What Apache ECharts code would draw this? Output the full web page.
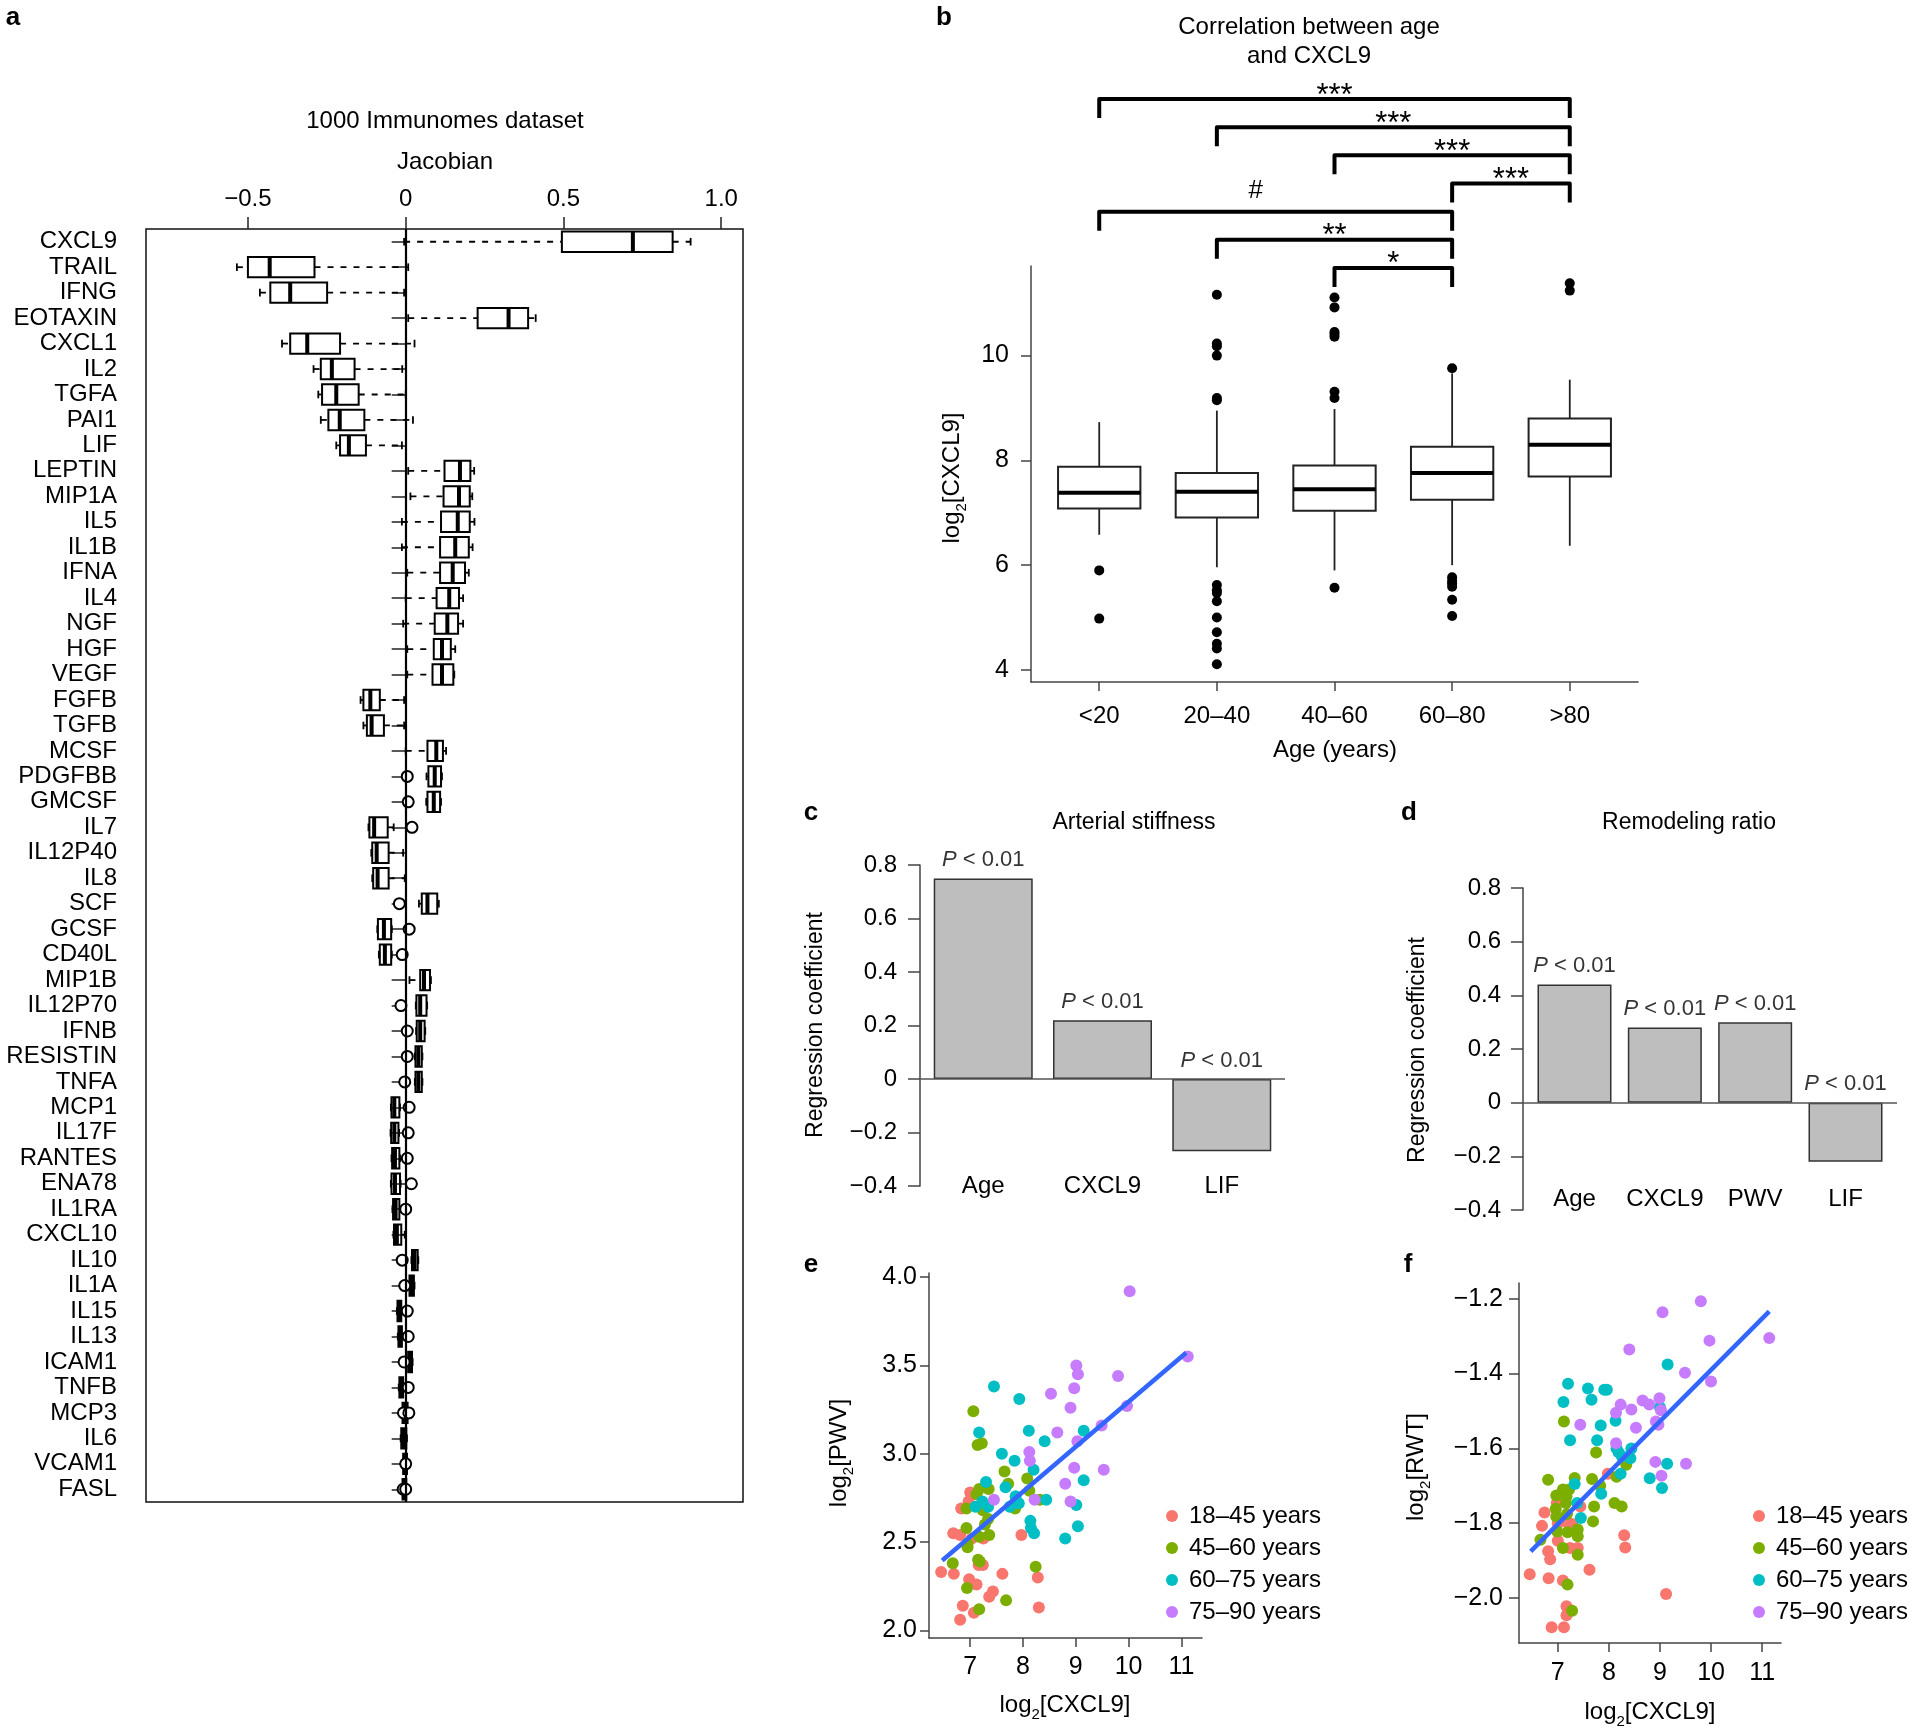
<!DOCTYPE html>
<html><head><meta charset="utf-8">
<script src="https://cdn.jsdelivr.net/npm/echarts@6/dist/echarts.min.js"></script>
<style>html,body{margin:0;padding:0;background:#fff}#main{width:1920px;height:1734px}</style>
</head><body><div id="main"></div>
<script>
// ---------- Panel a data ----------
const jacGenes = ['CXCL9','TRAIL','IFNG','EOTAXIN','CXCL1','IL2','TGFA','PAI1','LIF','LEPTIN','MIP1A','IL5','IL1B','IFNA','IL4','NGF','HGF','VEGF','FGFB','TGFB','MCSF','PDGFBB','GMCSF','IL7','IL12P40','IL8','SCF','GCSF','CD40L','MIP1B','IL12P70','IFNB','RESISTIN','TNFA','MCP1','IL17F','RANTES','ENA78','IL1RA','CXCL10','IL10','IL1A','IL15','IL13','ICAM1','TNFB','MCP3','IL6','VCAM1','FASL'];
const jacMin = [-0.005,-0.535,-0.462,0.008,-0.392,-0.292,-0.277,-0.269,-0.22,0.008,0.015,-0.012,-0.012,0.005,0.0,-0.008,0.005,0.005,-0.143,-0.134,0.0,0.066,0.065,-0.118,-0.109,-0.106,0.042,-0.09,-0.085,0.012,0.032,0.033,0.029,0.029,-0.047,-0.048,-0.045,-0.047,-0.042,-0.039,0.018,0.01,-0.028,-0.025,0.006,-0.022,-0.012,-0.016,-0.01,-0.012];
const jacQ1 = [0.495,-0.5,-0.429,0.228,-0.366,-0.269,-0.265,-0.245,-0.208,0.123,0.12,0.112,0.109,0.109,0.098,0.092,0.089,0.085,-0.134,-0.123,0.069,0.072,0.069,-0.115,-0.106,-0.103,0.051,-0.088,-0.082,0.046,0.034,0.035,0.031,0.031,-0.045,-0.046,-0.043,-0.045,-0.04,-0.037,0.02,0.012,-0.026,-0.023,0.008,-0.02,-0.01,-0.014,-0.008,-0.01];
const jacMed = [0.72,-0.431,-0.366,0.326,-0.312,-0.234,-0.22,-0.209,-0.18,0.172,0.169,0.165,0.157,0.149,0.138,0.132,0.115,0.115,-0.112,-0.108,0.097,0.092,0.089,-0.1,-0.092,-0.089,0.069,-0.069,-0.066,0.058,0.046,0.046,0.04,0.04,-0.036,-0.036,-0.034,-0.034,-0.032,-0.028,0.028,0.018,-0.02,-0.018,0.013,-0.014,-0.002,-0.006,-0.002,-0.004];
const jacQ3 = [0.846,-0.289,-0.249,0.388,-0.208,-0.162,-0.149,-0.131,-0.126,0.205,0.203,0.203,0.2,0.188,0.169,0.166,0.143,0.151,-0.082,-0.069,0.118,0.112,0.109,-0.057,-0.054,-0.054,0.1,-0.046,-0.046,0.077,0.066,0.06,0.051,0.051,-0.02,-0.023,-0.02,-0.018,-0.02,-0.014,0.038,0.026,-0.014,-0.012,0.02,-0.008,0.006,0.002,0.004,0.002];
const jacMax = [0.903,0.008,-0.005,0.412,0.028,-0.011,0.0,0.023,-0.012,0.217,0.211,0.218,0.212,0.2,0.182,0.182,0.157,0.154,-0.005,-0.005,0.128,0.115,0.112,-0.038,-0.008,-0.003,0.105,-0.044,-0.044,0.08,0.068,0.062,0.053,0.053,-0.018,-0.021,-0.018,-0.016,-0.018,-0.003,0.04,0.028,-0.012,-0.01,0.022,-0.006,0.008,0.004,0.006,0.004];
const jacOutGene = ['PDGFBB','GMCSF','IL7','SCF','GCSF','CD40L','IL12P70','IFNB','RESISTIN','TNFA','MCP1','IL17F','RANTES','ENA78','IL1RA','IL10','IL1A','IL15','IL13','ICAM1','TNFB','MCP3','MCP3','VCAM1','FASL','FASL'];
const jacOutVal = [0.005,0.008,0.02,-0.02,0.011,-0.011,-0.015,0.005,0.005,-0.003,0.011,0.008,0.005,0.018,0.0,-0.011,-0.003,0.005,0.008,-0.005,0.008,-0.007,0.01,0.0,-0.008,0.0];
const jacTicks = [-0.5, 0, 0.5, 1.0];

// ---------- Panel b data ----------
const ageGroups = ['<20','20–40','40–60','60–80','>80'];
const bMin = [6.58, 5.96, 5.90, 6.00, 6.37];
const bQ1  = [7.08, 6.91, 7.04, 7.25, 7.69];
const bMed = [7.38, 7.40, 7.45, 7.76, 8.30];
const bQ3  = [7.88, 7.76, 7.90, 8.26, 8.80];
const bMax = [8.73, 8.95, 8.98, 9.66, 9.54];
const bOutliers = [
  [5.90, 4.98],
  [11.16, 10.23, 10.18, 10.00, 9.19, 9.15, 5.62, 5.52, 5.47, 5.31, 5.00, 4.72, 4.50, 4.41, 4.11],
  [11.11, 10.92, 10.45, 10.41, 10.36, 9.31, 9.19, 5.57],
  [9.76, 5.77, 5.70, 5.65, 5.59, 5.34, 5.03],
  [11.38, 11.24]
];
const bTicks = [4, 6, 8, 10];
const bracketFrom = [1, 2, 3, 4, 1, 2, 3];
const bracketTo   = [5, 5, 5, 5, 4, 4, 4];
const bracketText = ['***','***','***','***','#','**','*'];

// ---------- Panels c, d data ----------
const arterialVars = ['Age', 'CXCL9', 'LIF'];
const arterialCoef = [0.75, 0.22, -0.27];
const arterialP = ['< 0.01', '< 0.01', '< 0.01'];
const remodelVars = ['Age', 'CXCL9', 'PWV', 'LIF'];
const remodelCoef = [0.44, 0.28, 0.30, -0.22];
const remodelP = ['< 0.01', '< 0.01', '< 0.01', '< 0.01'];

// ---------- Panels e, f data ----------
const groupNames = ['18–45 years', '45–60 years', '60–75 years', '75–90 years'];
const groupColors = ['#F8766D', '#7CAE00', '#00BFC4', '#C77CFF'];
const ePwv18 = [[6.45,2.33],[6.69,2.32],[7.0,2.78],[6.97,2.73],[6.83,2.69],[6.68,2.55],[6.81,2.54],[7.03,2.52],[7.25,2.52],[7.97,2.54],[6.98,2.29],[7.12,2.26],[7.16,2.37],[7.24,2.37],[6.86,2.14],[6.81,2.06],[7.07,2.10],[7.36,2.19],[7.43,2.22],[7.61,2.32],[8.28,2.30],[8.30,2.13]];
const ePwv45 = [[7.06,3.24],[7.14,3.05],[7.22,3.06],[7.12,2.77],[7.17,2.80],[6.93,2.69],[6.93,2.58],[6.95,2.49],[6.95,2.47],[6.67,2.38],[6.94,2.24],[7.17,2.12],[7.15,2.40],[7.18,2.39],[7.17,2.53],[7.28,2.60],[7.34,2.63],[7.36,2.54],[7.26,2.71],[7.35,2.80],[7.24,2.68],[7.65,2.90],[7.72,2.83],[7.85,2.69],[8.08,2.86],[8.12,2.79],[8.24,2.36],[7.68,2.17],[8.32,2.74]];
const ePwv60 = [[7.45,3.38],[7.93,3.31],[7.17,3.12],[8.11,3.13],[8.41,3.07],[9.15,3.13],[7.60,3.00],[7.84,2.96],[8.20,2.91],[7.30,2.84],[7.67,2.81],[7.10,2.70],[7.23,2.73],[7.34,2.70],[7.86,2.76],[7.92,2.72],[7.75,2.70],[8.44,2.74],[9.15,2.85],[9.01,2.71],[8.14,2.62],[8.15,2.58],[8.21,2.55],[8.80,2.52],[9.04,2.59]];
const ePwv75 = [[10.02,3.92],[11.12,3.55],[9.01,3.50],[9.04,3.45],[9.80,3.44],[8.97,3.37],[8.53,3.34],[8.90,3.26],[9.97,3.27],[8.65,3.12],[9.49,3.16],[9.03,3.07],[8.12,3.01],[8.13,2.96],[8.97,2.92],[9.53,2.91],[8.80,2.83],[7.45,2.74],[8.22,2.74],[8.90,2.73]];
const eFit = [[6.47, 2.396], [11.09, 3.572]];
const fRwt18 = [[6.45,-1.936],[6.82,-1.947],[6.81,-1.875],[6.85,-1.896],[6.69,-1.807],[6.74,-1.771],[6.98,-1.746],[7.0,-1.80],[7.0,-1.847],[7.10,-1.953],[7.17,-2.022],[7.17,-2.046],[6.88,-2.078],[7.12,-2.078],[7.28,-1.802],[7.24,-1.866],[7.39,-1.866],[7.44,-1.755],[7.62,-1.924],[7.98,-1.668],[8.30,-1.832],[8.32,-1.865],[9.12,-1.989],[7.2,-1.80]];
const fRwt45 = [[7.12,-1.528],[6.81,-1.684],[6.97,-1.726],[6.96,-1.761],[6.97,-1.782],[6.99,-1.822],[6.66,-1.844],[7.10,-1.866],[7.22,-1.71],[7.17,-1.728],[7.16,-1.746],[7.18,-1.775],[7.19,-1.824],[7.33,-1.679],[7.39,-1.817],[7.39,-1.835],[7.39,-1.884],[7.19,-1.964],[7.28,-2.034],[7.75,-1.611],[7.67,-1.682],[7.83,-1.70],[7.71,-1.755],[7.69,-1.795],[8.15,-1.676],[8.11,-1.746],[8.25,-1.755],[8.34,-1.644],[7.10,-1.71]];
const fRwt60 = [[7.20,-1.427],[7.11,-1.476],[7.59,-1.44],[7.66,-1.47],[7.91,-1.443],[7.96,-1.443],[7.24,-1.578],[7.84,-1.539],[7.77,-1.578],[8.13,-1.526],[9.15,-1.376],[9.0,-1.49],[8.15,-1.60],[8.19,-1.61],[8.25,-1.62],[8.44,-1.60],[8.42,-1.626],[8.23,-1.668],[9.14,-1.641],[8.80,-1.68],[9.04,-1.706],[7.33,-1.695],[7.85,-1.721],[7.38,-1.746],[7.45,-1.786]];
const fRwt75 = [[9.80,-1.207],[9.05,-1.236],[11.14,-1.305],[9.97,-1.312],[8.40,-1.336],[9.49,-1.398],[10.0,-1.421],[8.66,-1.472],[8.79,-1.483],[8.99,-1.466],[9.02,-1.498],[8.23,-1.483],[8.44,-1.496],[8.14,-1.505],[7.44,-1.537],[8.53,-1.545],[8.92,-1.528],[8.97,-1.537],[8.14,-1.586],[8.91,-1.636],[9.51,-1.641],[9.03,-1.673]];
const fFit = [[6.47, -1.875], [11.14, -1.234]];
const scatterXTicks = [7, 8, 9, 10, 11];
const eYTicks = [2.0, 2.5, 3.0, 3.5, 4.0];
const fYTicks = [-2.0, -1.8, -1.6, -1.4, -1.2];

// ---------- helpers ----------
const FF = '"Liberation Sans", Arial, Helvetica, sans-serif';
const AX = '#444';
function signed(v, d) {
  if (Math.abs(v) < 1e-9) return '0';
  return (v < 0 ? '−' : '') + Math.abs(v).toFixed(d);
}
function txt(x, y, text, size, opts) {
  opts = opts || {};
  const st = {text: text, fontSize: size, fontFamily: FF, fontWeight: opts.bold ? 'bold' : 'normal',
    fill: '#000', align: opts.align || 'center', verticalAlign: 'middle',
    textAlign: opts.align || 'center', textVerticalAlign: 'middle'};
  if (opts.rich) st.rich = opts.rich;
  return {type: 'text', x: x, y: y, rotation: opts.rot || 0, z: 100, style: st};
}
const logRich = {a: {fontSize: 24, fontFamily: FF, lineHeight: 34, verticalAlign: 'middle'},
                 s: {fontSize: 15, fontFamily: FF, lineHeight: 17, verticalAlign: 'bottom'}};
function logTxt(x, y, inner, rot) {
  return txt(x, y, '{a|log}{s|2}{a|' + inner + '}', 24, {rot: rot ? Math.PI / 2 : 0, rich: logRich});
}

// ---------- render functions ----------
function renderJacBox(params, api) {
  const cat = api.value(0);
  const band = api.size([0, 1])[1];
  const h = band * 0.8, cap = band * 0.3;
  const pMin = api.coord([api.value(1), cat]);
  const pQ1 = api.coord([api.value(2), cat]);
  const pMd = api.coord([api.value(3), cat]);
  const pQ3 = api.coord([api.value(4), cat]);
  const pMax = api.coord([api.value(5), cat]);
  const y = pMd[1];
  const ws = {stroke: '#000', lineWidth: 1.8, lineDash: [6, 7]};
  const ss = {stroke: '#000', lineWidth: 1.8};
  return {type: 'group', children: [
    {type: 'line', shape: {x1: pMin[0], y1: y, x2: pQ1[0], y2: y}, style: ws},
    {type: 'line', shape: {x1: pQ3[0], y1: y, x2: pMax[0], y2: y}, style: ws},
    {type: 'line', shape: {x1: pMin[0], y1: y - cap / 2, x2: pMin[0], y2: y + cap / 2}, style: ss},
    {type: 'line', shape: {x1: pMax[0], y1: y - cap / 2, x2: pMax[0], y2: y + cap / 2}, style: ss},
    {type: 'rect', shape: {x: pQ1[0], y: y - h / 2, width: pQ3[0] - pQ1[0], height: h}, style: {stroke: '#000', lineWidth: 2, fill: 'rgba(0,0,0,0)'}},
    {type: 'line', shape: {x1: pMd[0], y1: y - h / 2, x2: pMd[0], y2: y + h / 2}, style: {stroke: '#000', lineWidth: 4}}
  ]};
}
function renderAgeBox(params, api) {
  const x = api.value(0);
  const w = api.size([0.7, 0])[0];
  const pMin = api.coord([x, api.value(1)]);
  const pQ1 = api.coord([x, api.value(2)]);
  const pMd = api.coord([x, api.value(3)]);
  const pQ3 = api.coord([x, api.value(4)]);
  const pMax = api.coord([x, api.value(5)]);
  const cx = pMd[0];
  const ls = {stroke: '#222', lineWidth: 1.8};
  return {type: 'group', children: [
    {type: 'line', shape: {x1: cx, y1: pQ3[1], x2: cx, y2: pMax[1]}, style: ls},
    {type: 'line', shape: {x1: cx, y1: pQ1[1], x2: cx, y2: pMin[1]}, style: ls},
    {type: 'rect', shape: {x: cx - w / 2, y: pQ3[1], width: w, height: pQ1[1] - pQ3[1]}, style: {stroke: '#222', lineWidth: 2, fill: '#fff'}},
    {type: 'line', shape: {x1: cx - w / 2, y1: pMd[1], x2: cx + w / 2, y2: pMd[1]}, style: {stroke: '#000', lineWidth: 4}}
  ]};
}
function renderBracket(params, api) {
  const p1 = api.coord([api.value(0), api.value(2)]);
  const p2 = api.coord([api.value(1), api.value(2)]);
  const label = bracketText[params.dataIndex];
  const isHash = label === '#';
  const leg = 19;
  return {type: 'group', children: [
    {type: 'polyline', shape: {points: [[p1[0], p1[1] + leg], [p1[0], p1[1]], [p2[0], p2[1]], [p2[0], p2[1] + leg]]},
      style: {stroke: '#000', lineWidth: 4, fill: null, lineJoin: 'round'}},
    {type: 'text', style: {text: label, x: (p1[0] + p2[0]) / 2 + (isHash ? -20 : 0), y: p1[1] + (isHash ? -21 : -3),
      fontSize: isHash ? 26 : 31, fontFamily: FF, fill: '#000', align: 'center', verticalAlign: 'middle', textAlign: 'center', textVerticalAlign: 'middle'}}
  ]};
}

// ---------- build data ----------
const jacBoxData = jacGenes.map((g, i) => [i, jacMin[i], jacQ1[i], jacMed[i], jacQ3[i], jacMax[i]]);
const jacOutData = jacOutGene.map((g, i) => [jacOutVal[i], jacGenes.indexOf(g)]);
const ageBoxData = ageGroups.map((g, i) => [i + 1, bMin[i], bQ1[i], bMed[i], bQ3[i], bMax[i]]);
const ageOutData = [];
bOutliers.forEach((arr, i) => arr.forEach(v => ageOutData.push([i + 1, v])));
const bracketData = bracketFrom.map((f, i) => [f, bracketTo[i], i]);
const cPos = arterialVars.map((v, i) => 0.7 + 1.2 * i);
const dPos = remodelVars.map((v, i) => 0.7 + 1.2 * i);

const axisLineStyle = {color: AX, width: 1.5};
const noSplit = {show: false};
const lblBase = {fontSize: 24, fontFamily: FF, color: '#000'};

function pLabelSeries(xi, yi, pos, coefs, ptxt) {
  return {type: 'scatter', xAxisIndex: xi, yAxisIndex: yi, symbolSize: 1, silent: true, z: 6,
    itemStyle: {color: 'rgba(0,0,0,0)'},
    data: coefs.map((c, i) => [pos[i], Math.max(c, 0)]),
    label: {show: true, position: 'top', distance: 7,
      formatter: p => '{i|P} ' + ptxt[p.dataIndex],
      fontSize: 22, fontFamily: FF, color: '#000',
      rich: {i: {fontStyle: 'italic', fontSize: 22, fontFamily: FF, color: '#000'}}}};
}
function scatterGroup(xi, yi, data, gi) {
  return {type: 'scatter', name: groupNames[gi], xAxisIndex: xi, yAxisIndex: yi, data: data, symbolSize: 12,
    itemStyle: {color: groupColors[gi], opacity: 1}, z: 3};
}

const option = {
  animation: false,
  backgroundColor: '#fff',
  textStyle: {fontFamily: FF},
  grid: [
    {left: 146, top: 229, width: 597, height: 1273, show: true, borderColor: '#111', borderWidth: 1.5, outerBoundsMode: 'none'},
    {left: 1031, top: 266, width: 607, height: 416, outerBoundsMode: 'none'},
    {left: 1031, top: 85, width: 607, height: 197, outerBoundsMode: 'none'},
    {left: 920, top: 865, width: 365, height: 321, outerBoundsMode: 'none'},
    {left: 1523, top: 888, width: 374, height: 322, outerBoundsMode: 'none'},
    {left: 929, top: 1273, width: 273, height: 365, outerBoundsMode: 'none'},
    {left: 1519, top: 1283, width: 262, height: 360, outerBoundsMode: 'none'}
  ],
  xAxis: [
    {gridIndex: 0, type: 'value', position: 'top', min: -0.823, max: 1.069, splitLine: noSplit,
      axisLine: {show: false},
      axisTick: {show: true, inside: false, length: 12, customValues: jacTicks, lineStyle: {color: '#222', width: 1.5}},
      axisLabel: Object.assign({customValues: jacTicks, margin: 18, formatter: v => signed(v, 1)}, lblBase)},
    {gridIndex: 1, type: 'value', min: 0.42, max: 5.58, splitLine: noSplit,
      axisLine: {show: true, lineStyle: axisLineStyle},
      axisTick: {show: true, length: 9, customValues: [1, 2, 3, 4, 5], lineStyle: axisLineStyle},
      axisLabel: Object.assign({customValues: [1, 2, 3, 4, 5], margin: 22, formatter: v => ageGroups[Math.round(v) - 1]}, lblBase)},
    {gridIndex: 2, type: 'value', min: 0.42, max: 5.58, show: false, splitLine: noSplit},
    {gridIndex: 3, type: 'value', min: 0.064, max: 3.736, splitLine: noSplit,
      axisLine: {show: false}, axisTick: {show: false},
      axisLabel: Object.assign({customValues: cPos, margin: 0, verticalAlign: 'middle', formatter: v => arterialVars[Math.round((v - 0.7) / 1.2)]}, lblBase)},
    {gridIndex: 4, type: 'value', min: 0.016, max: 4.984, splitLine: noSplit,
      axisLine: {show: false}, axisTick: {show: false},
      axisLabel: Object.assign({customValues: dPos, margin: -11, verticalAlign: 'middle', formatter: v => remodelVars[Math.round((v - 0.7) / 1.2)]}, lblBase)},
    {gridIndex: 5, type: 'value', min: 6.22, max: 11.39, splitLine: noSplit,
      axisLine: {show: true, lineStyle: axisLineStyle},
      axisTick: {show: true, length: 9, customValues: scatterXTicks, lineStyle: axisLineStyle},
      axisLabel: Object.assign({customValues: scatterXTicks, margin: 17}, lblBase, {fontSize: 25})},
    {gridIndex: 6, type: 'value', min: 6.24, max: 11.37, splitLine: noSplit,
      axisLine: {show: true, lineStyle: axisLineStyle},
      axisTick: {show: true, length: 9, customValues: scatterXTicks, lineStyle: axisLineStyle},
      axisLabel: Object.assign({customValues: scatterXTicks, margin: 18}, lblBase, {fontSize: 25})}
  ],
  yAxis: [
    {gridIndex: 0, type: 'category', inverse: true, data: jacGenes, splitLine: noSplit,
      axisLine: {show: false},
      axisTick: {show: true, inside: false, length: 14, alignWithLabel: true, interval: 0, lineStyle: {color: '#222', width: 1.5}},
      axisLabel: Object.assign({interval: 0, margin: 29}, lblBase)},
    {gridIndex: 1, type: 'value', min: 3.77, max: 11.71, splitLine: noSplit,
      axisLine: {show: true, lineStyle: axisLineStyle},
      axisTick: {show: true, length: 10, customValues: bTicks, lineStyle: axisLineStyle},
      axisLabel: Object.assign({customValues: bTicks, margin: 22}, lblBase, {fontSize: 25})},
    {gridIndex: 2, type: 'value', inverse: true, min: -0.5, max: 6.5, show: false, splitLine: noSplit},
    {gridIndex: 3, type: 'value', min: -0.4, max: 0.8, interval: 0.2, splitLine: noSplit,
      axisLine: {show: true, lineStyle: axisLineStyle},
      axisTick: {show: true, length: 12, lineStyle: axisLineStyle},
      axisLabel: Object.assign({margin: 23, formatter: v => signed(v, 1)}, lblBase)},
    {gridIndex: 4, type: 'value', min: -0.4, max: 0.8, interval: 0.2, splitLine: noSplit,
      axisLine: {show: true, lineStyle: axisLineStyle},
      axisTick: {show: true, length: 12, lineStyle: axisLineStyle},
      axisLabel: Object.assign({margin: 22, formatter: v => signed(v, 1)}, lblBase)},
    {gridIndex: 5, type: 'value', min: 1.957, max: 4.023, splitLine: noSplit,
      axisLine: {show: true, lineStyle: axisLineStyle},
      axisTick: {show: true, length: 9, customValues: eYTicks, lineStyle: axisLineStyle},
      axisLabel: Object.assign({customValues: eYTicks, margin: 12, formatter: v => signed(v, 1)}, lblBase, {fontSize: 25})},
    {gridIndex: 6, type: 'value', min: -2.12, max: -1.158, splitLine: noSplit,
      axisLine: {show: true, lineStyle: axisLineStyle},
      axisTick: {show: true, length: 10, customValues: fYTicks, lineStyle: axisLineStyle},
      axisLabel: Object.assign({customValues: fYTicks, margin: 16, formatter: v => signed(v, 1)}, lblBase, {fontSize: 25})}
  ],
  legend: [
    {data: groupNames, orient: 'vertical', left: 1166, top: 1504, padding: 0, itemWidth: 24, itemHeight: 12, itemGap: 8,
      icon: 'circle', selectedMode: false, textStyle: {fontSize: 24, fontFamily: FF, color: '#000'}},
    {data: groupNames, orient: 'vertical', left: 1753, top: 1504, padding: 0, itemWidth: 24, itemHeight: 12, itemGap: 8,
      icon: 'circle', selectedMode: false, textStyle: {fontSize: 24, fontFamily: FF, color: '#000'}}
  ],
  series: [
    // panel a
    {type: 'custom', xAxisIndex: 0, yAxisIndex: 0, renderItem: renderJacBox, data: jacBoxData,
      encode: {x: [1, 2, 3, 4, 5], y: 0}, z: 2, silent: true},
    {type: 'scatter', xAxisIndex: 0, yAxisIndex: 0, data: jacOutData, symbol: 'emptyCircle', symbolSize: 11,
      itemStyle: {color: '#000', borderColor: '#000', borderWidth: 1.5, opacity: 1}, z: 3, silent: true,
      markLine: {silent: true, symbol: ['none', 'none'], label: {show: false}, data: [{xAxis: 0}],
        lineStyle: {color: '#000', width: 2.2, type: 'solid'}}},
    // panel b
    {type: 'custom', xAxisIndex: 1, yAxisIndex: 1, renderItem: renderAgeBox, data: ageBoxData,
      encode: {x: 0, y: [1, 2, 3, 4, 5]}, z: 2, silent: true},
    {type: 'scatter', xAxisIndex: 1, yAxisIndex: 1, data: ageOutData, symbol: 'circle', symbolSize: 10,
      itemStyle: {color: '#000', opacity: 1}, z: 3, silent: true},
    {type: 'custom', xAxisIndex: 2, yAxisIndex: 2, renderItem: renderBracket, data: bracketData,
      encode: {x: [0, 1], y: 2}, z: 2, silent: true},
    // panel c
    {type: 'bar', xAxisIndex: 3, yAxisIndex: 3, barWidth: 99, data: arterialCoef.map((c, i) => [cPos[i], c]),
      itemStyle: {color: '#bebebe', borderColor: '#333', borderWidth: 1.5}, silent: true,
      markLine: {silent: true, symbol: ['none', 'none'], label: {show: false}, data: [{yAxis: 0}],
        lineStyle: {color: '#555', width: 1.5, type: 'solid'}}},
    pLabelSeries(3, 3, cPos, arterialCoef, arterialP),
    // panel d
    {type: 'bar', xAxisIndex: 4, yAxisIndex: 4, barWidth: 74, data: remodelCoef.map((c, i) => [dPos[i], c]),
      itemStyle: {color: '#bebebe', borderColor: '#333', borderWidth: 1.5}, silent: true,
      markLine: {silent: true, symbol: ['none', 'none'], label: {show: false}, data: [{yAxis: 0}],
        lineStyle: {color: '#555', width: 1.5, type: 'solid'}}},
    pLabelSeries(4, 4, dPos, remodelCoef, remodelP),
    // panel e
    scatterGroup(5, 5, ePwv18, 0), scatterGroup(5, 5, ePwv45, 1), scatterGroup(5, 5, ePwv60, 2), scatterGroup(5, 5, ePwv75, 3),
    {type: 'line', xAxisIndex: 5, yAxisIndex: 5, data: eFit, showSymbol: false, symbol: 'none', silent: true, z: 5,
      lineStyle: {color: '#3366FF', width: 4.5}},
    // panel f
    scatterGroup(6, 6, fRwt18, 0), scatterGroup(6, 6, fRwt45, 1), scatterGroup(6, 6, fRwt60, 2), scatterGroup(6, 6, fRwt75, 3),
    {type: 'line', xAxisIndex: 6, yAxisIndex: 6, data: fFit, showSymbol: false, symbol: 'none', silent: true, z: 5,
      lineStyle: {color: '#3366FF', width: 4.5}}
  ],
  graphic: [
    txt(13, 18, 'a', 26, {bold: true}),
    txt(944, 18, 'b', 26, {bold: true}),
    txt(811, 813, 'c', 26, {bold: true}),
    txt(1409, 813, 'd', 26, {bold: true}),
    txt(811, 1265, 'e', 26, {bold: true}),
    txt(1408, 1265, 'f', 26, {bold: true}),
    txt(445, 121, '1000 Immunomes dataset', 24),
    txt(445, 162, 'Jacobian', 24),
    txt(1309, 27, 'Correlation between age', 24),
    txt(1309, 56, 'and CXCL9', 24),
    txt(1335, 750, 'Age (years)', 24),
    logTxt(952, 478, '[CXCL9]', true),
    txt(1134, 823, 'Arterial stiffness', 23),
    txt(1689, 823, 'Remodeling ratio', 23),
    txt(816, 1025, 'Regression coefficient', 23, {rot: Math.PI / 2}),
    txt(1418, 1050, 'Regression coefficient', 23, {rot: Math.PI / 2}),
    logTxt(839, 1453, '[PWV]', true),
    logTxt(1065, 1705, '[CXCL9]', false),
    logTxt(1416, 1467, '[RWT]', true),
    logTxt(1650, 1712, '[CXCL9]', false)
  ]
};

const chart = echarts.init(document.getElementById('main'), null, {renderer: 'canvas', width: 1920, height: 1734});
chart.setOption(option);
</script></body></html>
